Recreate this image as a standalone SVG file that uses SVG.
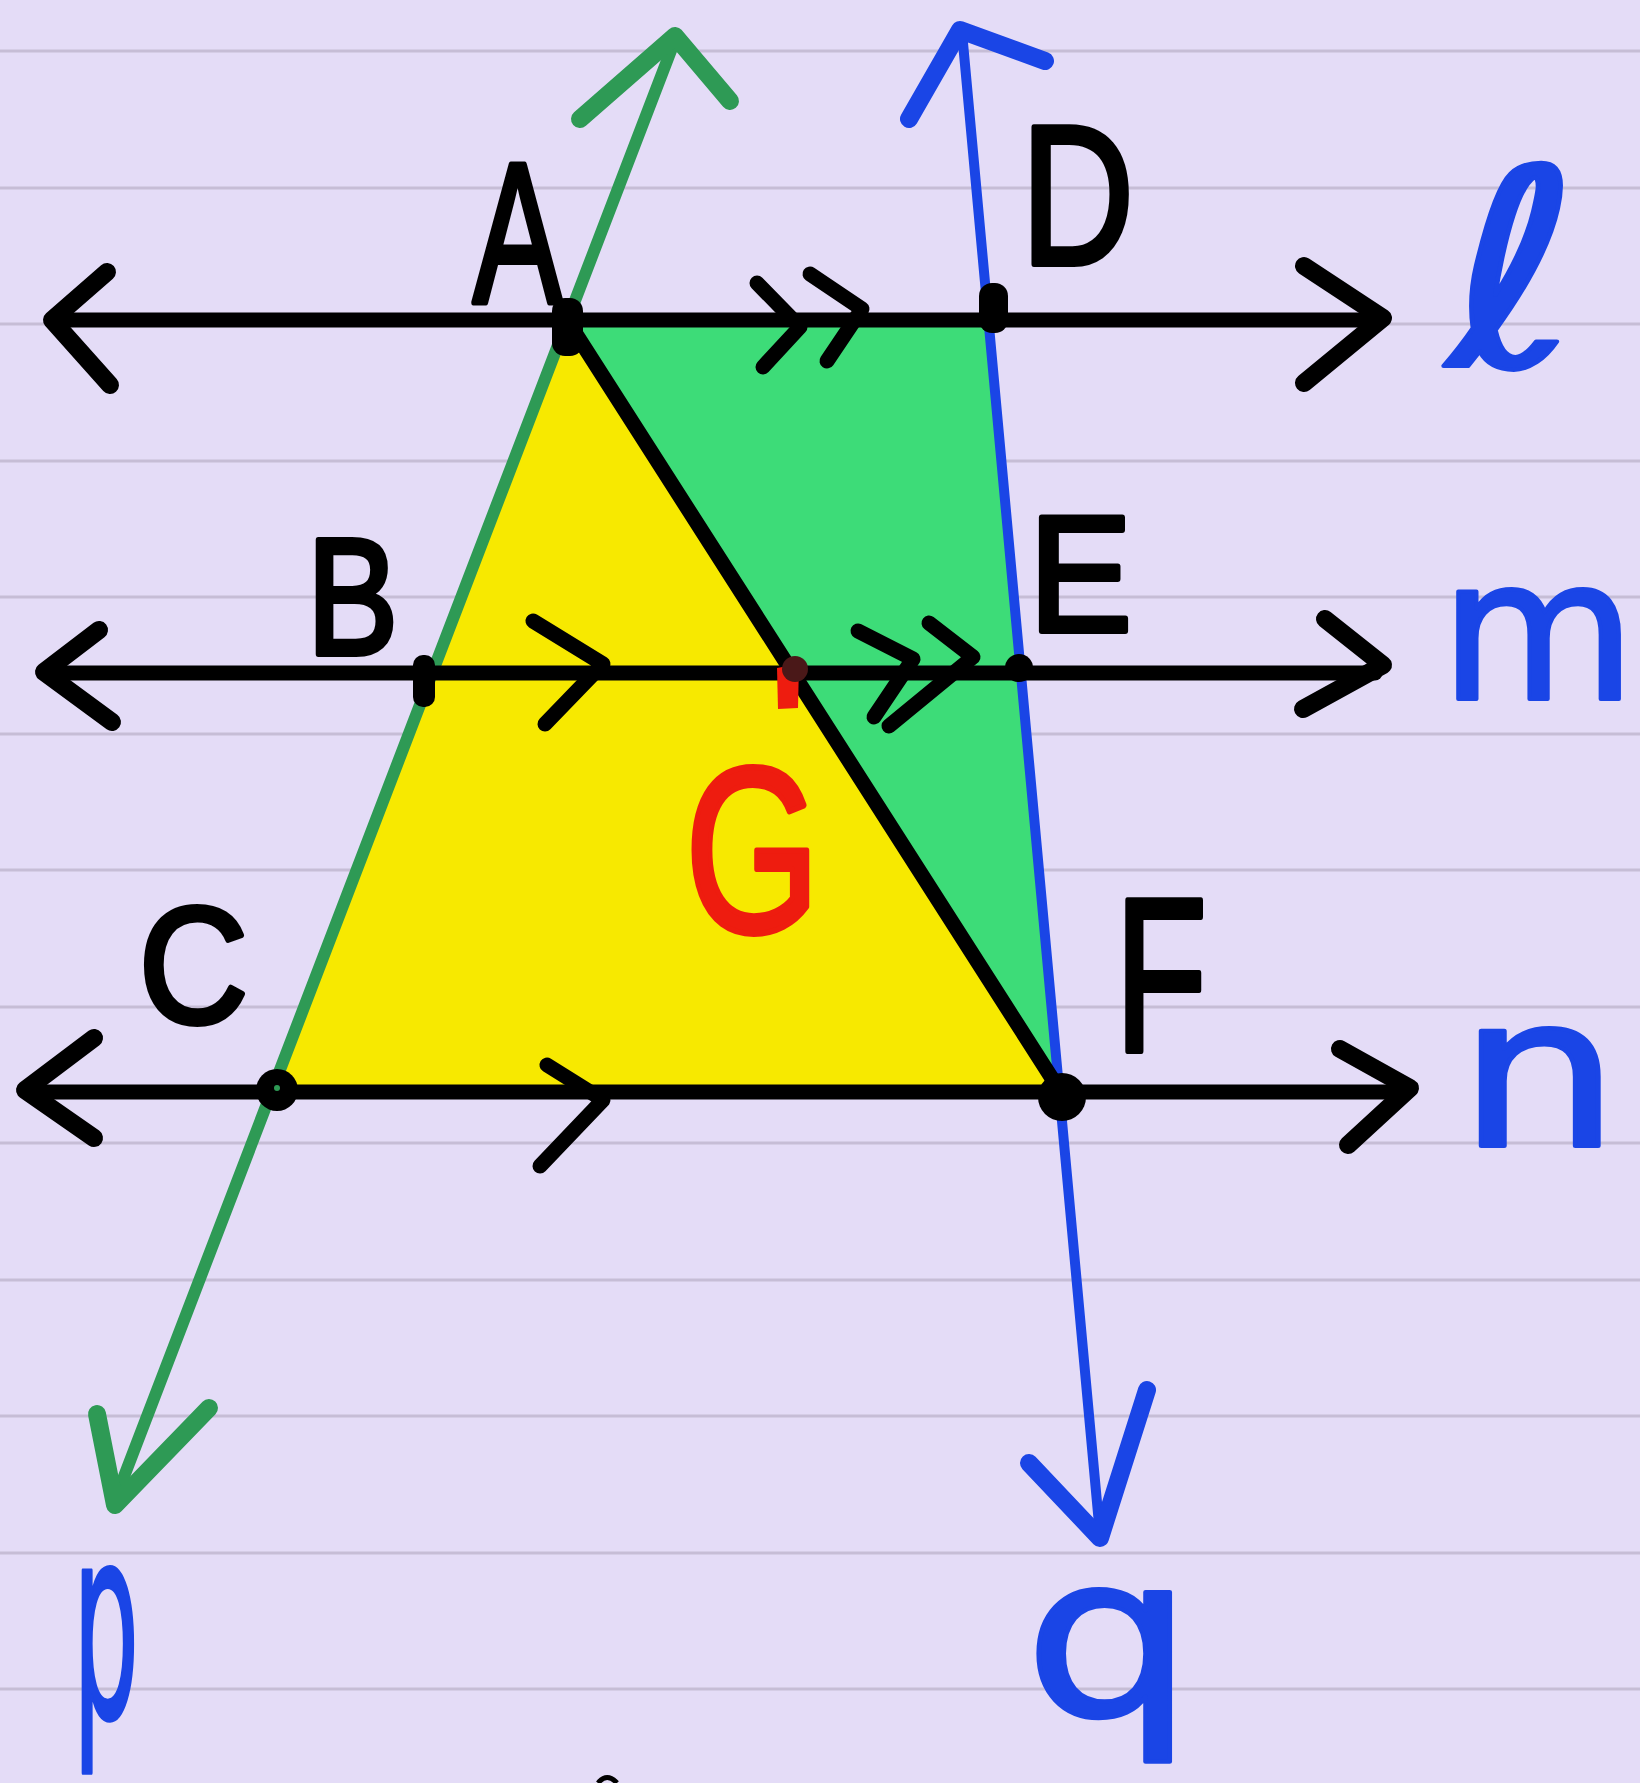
<svg xmlns="http://www.w3.org/2000/svg" width="1640" height="1783" viewBox="0 0 1640 1783">
<style>
.rule{stroke:#c6bdd6;stroke-width:3}
.blk{stroke:#000;stroke-width:15;fill:none;stroke-linecap:round;stroke-linejoin:round}
.head{stroke:#000;stroke-width:18;fill:none;stroke-linecap:round;stroke-linejoin:round}
.grn{stroke:#2e9a55;fill:none;stroke-linecap:round;stroke-linejoin:round}
.blu{stroke:#1a45e6;fill:none;stroke-linecap:round;stroke-linejoin:round}
.lbl{font-family:"Liberation Sans",Arial,sans-serif;fill:#000;stroke:#000;stroke-width:6;stroke-linejoin:round}
.bl{font-family:"DejaVu Sans",sans-serif;fill:#1a45e6;stroke:#1a45e6;stroke-width:4;stroke-linejoin:round}
</style>
<rect width="1640" height="1783" fill="#e4dcf7"/>
<g id="ruled">
<line class="rule" x1="0" y1="51" x2="1640" y2="51"/>
<line class="rule" x1="0" y1="188" x2="1640" y2="188"/>
<line class="rule" x1="0" y1="324" x2="1640" y2="324"/>
<line class="rule" x1="0" y1="461" x2="1640" y2="461"/>
<line class="rule" x1="0" y1="597" x2="1640" y2="597"/>
<line class="rule" x1="0" y1="734" x2="1640" y2="734"/>
<line class="rule" x1="0" y1="870" x2="1640" y2="870"/>
<line class="rule" x1="0" y1="1007" x2="1640" y2="1007"/>
<line class="rule" x1="0" y1="1143" x2="1640" y2="1143"/>
<line class="rule" x1="0" y1="1280" x2="1640" y2="1280"/>
<line class="rule" x1="0" y1="1416" x2="1640" y2="1416"/>
<line class="rule" x1="0" y1="1553" x2="1640" y2="1553"/>
<line class="rule" x1="0" y1="1689" x2="1640" y2="1689"/>
</g>
<g id="fills">
<polygon points="567,322 277,1092 1062,1092" fill="#f7e900"/>
<polygon points="567,322 993,322 1060,1092" fill="#3ddc78"/>
</g>
<g id="connectors">
<g id="line-p">
<line class="grn" stroke-width="12" x1="675" y1="40" x2="115" y2="1500"/>
<polyline class="grn" stroke-width="18" points="580,119 675,36 730,101"/>
<polyline class="grn" stroke-width="18" points="97,1414 115,1505 209,1408"/>
</g>
<g id="line-q">
<line class="blu" stroke-width="10" x1="962" y1="32" x2="1100" y2="1535"/>
<polyline class="blu" stroke-width="18" points="909,119 960,30 1045,61"/>
<polyline class="blu" stroke-width="18" points="1029,1463 1100,1538 1147,1390"/>
</g>
<g id="line-l">
<line class="blk" x1="60" y1="320" x2="1375" y2="320"/>
<polyline class="head" points="107,272 52,320 110,385"/>
<polyline class="head" points="1304,266 1383,318 1304,383"/>
</g>
<g id="line-m">
<line class="blk" x1="50" y1="673" x2="1375" y2="673"/>
<polyline class="head" points="99,630 44,672 112,722"/>
<polyline class="head" points="1325,619 1383,665 1303,709"/>
</g>
<g id="line-n">
<line class="blk" x1="30" y1="1092" x2="1400" y2="1092"/>
<polyline class="head" points="94,1038 25,1090 94,1138"/>
<polyline class="head" points="1340,1049 1410,1088 1348,1145"/>
</g>
<line id="seg-AF" class="blk" x1="567" y1="320" x2="1062" y2="1094"/>
<g id="ticks">
<polyline class="blk" points="757,283 800,327 763,367"/>
<polyline class="blk" points="810,274 862,309 827,361"/>
<polyline class="blk" points="533,621 603,664 545,724"/>
<polyline class="blk" points="858,631 913,659 874,717"/>
<polyline class="blk" points="929,623 973,657 889,726"/>
<polyline class="blk" points="547,1065 603,1100 540,1166"/>
</g>
</g>
<g id="point-A"><rect x="552" y="298" width="31" height="58" rx="13" fill="#000"/></g>
<g id="point-B"><rect x="413" y="655" width="22" height="52" rx="10" fill="#000"/></g>
<g id="point-C"><circle cx="277" cy="1090" r="21" fill="#000"/><circle cx="277" cy="1088" r="3" fill="#2e9a55"/></g>
<g id="point-D"><rect x="979" y="283" width="29" height="50" rx="13" fill="#000"/></g>
<g id="point-E"><circle cx="1019" cy="668" r="14" fill="#000"/></g>
<g id="point-F"><circle cx="1062" cy="1097" r="24" fill="#000"/></g>
<g id="point-G">
<path d="M777,668 L799,664 L798,708 L778,709 Z" fill="#ee1c0f"/>
<circle cx="795" cy="669" r="13" fill="#4a1818"/>
</g>
<g id="labels">
<text class="lbl" x="473" y="302" font-size="200" textLength="89" lengthAdjust="spacingAndGlyphs">A</text>
<text class="lbl" x="307" y="654" font-size="166" textLength="91" lengthAdjust="spacingAndGlyphs">B</text>
<text class="lbl" x="139" y="1022" font-size="166" textLength="109" lengthAdjust="spacingAndGlyphs">C</text>
<text class="lbl" x="1021" y="264" font-size="198" textLength="113" lengthAdjust="spacingAndGlyphs">D</text>
<text class="lbl" x="1029" y="631" font-size="166" textLength="103" lengthAdjust="spacingAndGlyphs">E</text>
<text class="lbl" x="1115" y="1051" font-size="219" textLength="92" lengthAdjust="spacingAndGlyphs">F</text>
<text class="lbl" x="685" y="932" font-size="236" textLength="135" lengthAdjust="spacingAndGlyphs" style="fill:#ee1c0f;stroke:#ee1c0f">G</text>
<text class="bl" x="1448" y="366" font-size="274" textLength="132" lengthAdjust="spacingAndGlyphs">ℓ</text>
<text class="bl" x="1440" y="699" font-size="196" textLength="196" lengthAdjust="spacingAndGlyphs">m</text>
<text class="bl" x="1458" y="1146" font-size="210" textLength="162" lengthAdjust="spacingAndGlyphs">n</text>
<text class="bl" x="73" y="1717" font-size="268" textLength="66" lengthAdjust="spacingAndGlyphs">p</text>
<text class="bl" x="1024" y="1715" font-size="225" textLength="170" lengthAdjust="spacingAndGlyphs">q</text>
</g>
<path d="M598,1783 Q607,1772 617,1783" stroke="#000" stroke-width="5" fill="none"/>
</svg>
